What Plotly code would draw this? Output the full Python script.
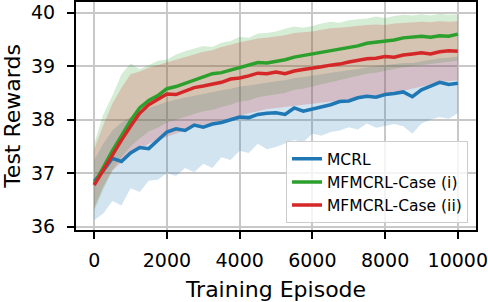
import plotly.graph_objects as go

episodes = list(range(0, 10001, 250))
x_ticks = [0, 2000, 4000, 6000, 8000, 10000]
x_ticklabels = ["0", "2000", "4000", "6000", "8000", "10000"]
y_ticks = [36, 37, 38, 39, 40]

mcrl_mean = [36.85, 37.05, 37.28, 37.22, 37.38, 37.48, 37.46, 37.61, 37.77, 37.83,
             37.80, 37.90, 37.86, 37.92, 37.95, 38.00, 38.05, 38.04, 38.10, 38.12,
             38.13, 38.10, 38.22, 38.16, 38.20, 38.24, 38.28, 38.34, 38.35, 38.41,
             38.44, 38.42, 38.47, 38.49, 38.52, 38.43, 38.56, 38.63, 38.70, 38.66, 38.68]
mcrl_upper = [37.25, 37.55, 37.80, 37.95, 38.05, 38.15, 38.22, 38.28, 38.33, 38.38,
              38.42, 38.45, 38.48, 38.52, 38.55, 38.58, 38.62, 38.64, 38.67, 38.70,
              38.72, 38.74, 38.78, 38.80, 38.82, 38.85, 38.88, 38.90, 38.93, 38.95,
              38.98, 39.00, 39.02, 39.04, 39.06, 39.06, 39.09, 39.12, 39.15, 39.16, 39.18]
mcrl_lower = [36.12, 36.25, 36.48, 36.40, 36.72, 36.65, 36.86, 36.88, 37.00, 36.95,
              37.10, 37.02, 37.18, 37.10, 37.30, 37.25, 37.42, 37.38, 37.55, 37.45,
              37.49, 37.55, 37.62, 37.58, 37.74, 37.70, 37.77, 37.80, 37.86, 37.82,
              37.93, 37.85, 37.89, 37.92, 37.88, 37.74, 37.93, 38.00, 38.05, 38.02, 38.12]

case1_mean = [36.80, 37.12, 37.42, 37.70, 37.98, 38.22, 38.36, 38.45, 38.58, 38.62,
              38.68, 38.74, 38.79, 38.86, 38.88, 38.93, 38.98, 39.03, 39.07, 39.06,
              39.09, 39.12, 39.17, 39.20, 39.23, 39.27, 39.29, 39.33, 39.36, 39.38,
              39.43, 39.45, 39.47, 39.49, 39.53, 39.55, 39.56, 39.54, 39.57, 39.56, 39.60]
case1_upper = [37.55, 38.10, 38.45, 38.85, 39.05, 38.95, 39.02, 39.10, 39.12, 39.22,
               39.28, 39.33, 39.38, 39.36, 39.44, 39.47, 39.55, 39.53, 39.61, 39.62,
               39.65, 39.70, 39.74, 39.72, 39.75, 39.80, 39.83, 39.81, 39.86, 39.88,
               39.89, 39.93, 39.90, 39.94, 39.96, 39.95, 39.97, 39.95, 39.98, 39.96, 39.97]
case1_lower = [36.30, 36.70, 37.05, 37.30, 37.50, 37.65, 37.78, 37.85, 37.95, 38.00,
               38.05, 38.10, 38.16, 38.18, 38.24, 38.28, 38.34, 38.36, 38.42, 38.45,
               38.48, 38.50, 38.56, 38.58, 38.62, 38.66, 38.70, 38.74, 38.79, 38.82,
               38.86, 38.88, 38.92, 38.95, 38.98, 39.00, 39.02, 39.04, 39.06, 39.08, 39.10]

case2_mean = [36.78, 37.06, 37.36, 37.62, 37.88, 38.12, 38.28, 38.38, 38.48, 38.47,
              38.54, 38.60, 38.63, 38.67, 38.70, 38.76, 38.78, 38.82, 38.87, 38.86,
              38.89, 38.86, 38.91, 38.94, 38.96, 38.99, 39.02, 39.04, 39.08, 39.11,
              39.14, 39.15, 39.18, 39.17, 39.21, 39.23, 39.25, 39.23, 39.27, 39.29, 39.28]
case2_upper = [37.45, 37.90, 38.30, 38.60, 38.85, 38.90, 38.97, 39.02, 39.08, 39.12,
               39.18, 39.22, 39.27, 39.30, 39.36, 39.40, 39.45, 39.48, 39.52, 39.53,
               39.55, 39.58, 39.62, 39.63, 39.65, 39.68, 39.71, 39.72, 39.74, 39.75,
               39.77, 39.78, 39.77, 39.80, 39.81, 39.82, 39.83, 39.82, 39.84, 39.83, 39.84]
case2_lower = [36.35, 36.75, 37.05, 37.20, 37.35, 37.45, 37.55, 37.62, 37.68, 37.74,
               37.80, 37.86, 37.90, 37.95, 37.98, 38.03, 38.08, 38.12, 38.16, 38.20,
               38.22, 38.24, 38.26, 38.28, 38.30, 38.32, 38.34, 38.36, 38.38, 38.40,
               38.42, 38.44, 38.46, 38.50, 38.54, 38.58, 38.62, 38.66, 38.70, 38.72, 38.74]

series = [
    ("MCRL", mcrl_mean, mcrl_upper, mcrl_lower, "#1f77b4", "rgba(31,119,180,0.2)"),
    ("MFMCRL-Case (i)", case1_mean, case1_upper, case1_lower, "#2ca02c", "rgba(44,160,44,0.2)"),
    ("MFMCRL-Case (ii)", case2_mean, case2_upper, case2_lower, "#d62728", "rgba(214,39,40,0.2)"),
]

fig = go.Figure()
for name, mean, up, lo, col, fcol in series:
    fig.add_trace(go.Scatter(x=episodes, y=lo, mode="lines", line=dict(width=0),
                             showlegend=False, hoverinfo="skip"))
    fig.add_trace(go.Scatter(x=episodes, y=up, mode="lines", line=dict(width=0),
                             fill="tonexty", fillcolor=fcol, showlegend=False, hoverinfo="skip"))
for name, mean, up, lo, col, fcol in series:
    fig.add_trace(go.Scatter(x=episodes, y=mean, mode="lines", name=name,
                             line=dict(color=col, width=3.5)))

font = "DejaVu Sans"
fig.update_layout(
    width=488, height=302,
    margin=dict(l=76, r=12, t=2, b=72, autoexpand=False),
    plot_bgcolor="white", paper_bgcolor="white",
    font=dict(family=font, color="black", size=19),
    legend=dict(x=0.98, y=0.03, xanchor="right", yanchor="bottom",
                traceorder="normal",
                font=dict(size=15.5, family=font),
                bgcolor="rgba(255,255,255,0.8)", bordercolor="#cccccc", borderwidth=1,
                tracegroupgap=0),
)
fig.update_xaxes(range=[-500, 10500], tickvals=x_ticks, ticktext=x_ticklabels,
                 automargin=False, ticklabeloverflow="allow", ticklabelstandoff=5,
                 showgrid=True, gridcolor="#c8c8c8", gridwidth=2,
                 showline=True, linecolor="black", linewidth=2, mirror=True,
                 ticks="outside", ticklen=7, tickwidth=1.5, tickcolor="black",
                 zeroline=False, tickfont=dict(size=19),
                 title=dict(text="Training Episode", font=dict(size=22), standoff=14))
fig.update_yaxes(range=[35.94, 40.2], tickvals=y_ticks,
                 automargin=False, ticklabeloverflow="allow", ticklabelstandoff=8,
                 showgrid=True, gridcolor="#c8c8c8", gridwidth=2,
                 showline=True, linecolor="black", linewidth=2, mirror=True,
                 ticks="outside", ticklen=7, tickwidth=1.5, tickcolor="black",
                 zeroline=False, tickfont=dict(size=19),
                 title=dict(text="Test Rewards", font=dict(size=22), standoff=8))

fig.write_html("out.html", config={"displayModeBar": False},
               post_script="document.body.style.margin='0';document.body.style.overflow='hidden';")
